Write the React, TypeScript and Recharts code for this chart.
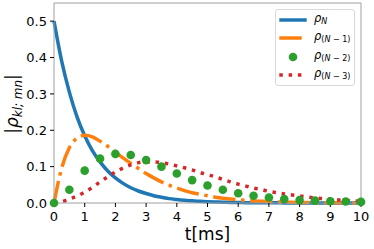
import React from 'react';
import { ComposedChart, Line, XAxis, YAxis, Legend, ReferenceLine, Label } from 'recharts';

const tValues = [
  0, 0.25, 0.5, 0.75, 1, 1.25, 1.5, 1.75, 2, 2.25, 2.5, 2.75, 3, 3.25, 3.5, 3.75,
  4, 4.25, 4.5, 4.75, 5, 5.25, 5.5, 5.75, 6, 6.25, 6.5, 6.75, 7, 7.25, 7.5, 7.75,
  8, 8.25, 8.5, 8.75, 9, 9.25, 9.5, 9.75, 10,
];

// rho_N
const rhoN = [
  0.5, 0.39, 0.305, 0.237, 0.185, 0.144, 0.113, 0.088, 0.069, 0.054, 0.042, 0.033, 0.026, 0.02, 0.016, 0.012,
  0.0095, 0.0075, 0.006, 0.0045, 0.0035, 0.0028, 0.0022, 0.0017, 0.0013, 0.001, 0.0008, 0.0006, 0.0005, 0.0004, 0.0003, 0.0002,
  0.0002, 0.0001, 0.0001, 0.0001, 0.0001, 0, 0, 0, 0,
];

// rho_(N-1)
const rhoN1 = [
  0, 0.096, 0.152, 0.178, 0.186, 0.182, 0.17, 0.156, 0.14, 0.124, 0.109, 0.095, 0.081, 0.069, 0.058, 0.049,
  0.041, 0.034, 0.028, 0.024, 0.02, 0.016, 0.013, 0.011, 0.009, 0.0072, 0.0058, 0.0047, 0.0038, 0.003, 0.0024, 0.0019,
  0.0015, 0.0012, 0.001, 0.0008, 0.0006, 0.0005, 0.0004, 0.0003, 0.0002,
];

// rho_(N-2), markers every 0.5 ms
const rhoN2 = [
  0, 0.0365, 0.089, 0.122, 0.135, 0.132, 0.118, 0.1, 0.081, 0.063, 0.048,
  0.0365, 0.027, 0.02, 0.015, 0.011, 0.008, 0.0065, 0.005, 0.004, 0.003,
];

// rho_(N-3)
const rhoN3 = [
  0, 0.003, 0.011, 0.019, 0.03, 0.043, 0.058, 0.072, 0.085, 0.096, 0.105, 0.111, 0.113, 0.113, 0.111, 0.107,
  0.102, 0.097, 0.091, 0.084, 0.078, 0.072, 0.065, 0.058, 0.052, 0.0465, 0.041, 0.037, 0.032, 0.028, 0.025, 0.022,
  0.0195, 0.0166, 0.014, 0.012, 0.01, 0.0085, 0.007, 0.0058, 0.0048,
];

const xTicks = [0, 1, 2, 3, 4, 5, 6, 7, 8, 9, 10];
const yTicks = [0, 0.1, 0.2, 0.3, 0.4, 0.5];

const data = tValues.map((t, i) => ({
  t,
  n: rhoN[i],
  n1: rhoN1[i],
  n2: i % 2 === 0 ? rhoN2[i / 2] : null,
  n3: rhoN3[i],
}));

const FONT = '"DejaVu Sans", sans-serif';
const SPINE = '#a0a0a0';

const legendItems = [
  { color: '#1f77b4', kind: 'solid', sub: <i>N</i> },
  { color: '#ff7f0e', kind: 'dashdot', sub: <>(<i>N</i> − 1)</> },
  { color: '#2ca02c', kind: 'dot', sub: <>(<i>N</i> − 2)</> },
  { color: '#d62728', kind: 'dotted', sub: <>(<i>N</i> − 3)</> },
];

function Swatch({ kind, color }: { kind: string; color: string }) {
  return (
    <svg width={36} height={18} style={{ display: 'block' }}>
      {kind === 'dot' ? (
        <circle cx={17} cy={9} r={4.3} fill={color} />
      ) : (
        <line
          x1={3.3}
          x2={30.7}
          y1={9}
          y2={9}
          stroke={color}
          strokeWidth={3.5}
          strokeDasharray={kind === 'dashdot' ? '22.4 5.6 3.5 5.6' : kind === 'dotted' ? '3.5 5.8' : undefined}
        />
      )}
    </svg>
  );
}

function LegendBox() {
  return (
    <div
      style={{
        width: 80,
        height: 77,
        boxSizing: 'border-box',
        border: '1px solid #d9d9d9',
        borderRadius: 3,
        background: 'rgba(255,255,255,0.8)',
        paddingTop: 1,
        fontFamily: FONT,
      }}
    >
      {legendItems.map((it, i) => (
        <div key={i} style={{ display: 'flex', alignItems: 'center', height: 18.3 }}>
          <Swatch kind={it.kind} color={it.color} />
          <span style={{ marginLeft: 2, fontSize: 11.5, lineHeight: '18px', color: '#000', whiteSpace: 'nowrap' }}>
            <i>ρ</i>
            <sub style={{ fontSize: 8, verticalAlign: '-2px' }}>{it.sub}</sub>
          </span>
        </div>
      ))}
    </div>
  );
}

function YTitle() {
  return (
    <text
      transform="translate(17.7,104) rotate(-90)"
      textAnchor="middle"
      fontFamily={FONT}
      fontSize={17}
      fill="#000"
    >
      |<tspan fontStyle="italic">ρ</tspan>
      <tspan fontStyle="italic" fontSize={12} dy={4}>kl; mn</tspan>
      <tspan dy={-4}>|</tspan>
    </text>
  );
}

export default function App() {
  return (
    <div style={{ position: 'absolute', left: 0, top: 0, background: '#fff' }}>
      <ComposedChart width={374} height={249} data={data} margin={{ top: 3, right: 13, left: 0, bottom: 0 }}>
        <XAxis
          dataKey="t"
          type="number"
          domain={[0, 10]}
          ticks={xTicks}
          height={46}
          axisLine={{ stroke: SPINE }}
          tickLine={{ stroke: '#000' }}
          tickSize={4}
          tickMargin={5}
          tick={{ fontSize: 13, fill: '#000', fontFamily: FONT }}
        >
          <Label value="t[ms]" position="insideBottom" offset={9} style={{ fontSize: 17, fill: '#000', fontFamily: FONT }} />
        </XAxis>
        <YAxis
          type="number"
          domain={[0, 0.55]}
          ticks={yTicks}
          width={54}
          axisLine={{ stroke: SPINE }}
          tickLine={{ stroke: '#000' }}
          tickSize={4}
          tickMargin={3}
          tickFormatter={(v: number) => v.toFixed(1)}
          tick={{ fontSize: 13, fill: '#000', fontFamily: FONT }}
        >
          <Label content={() => <YTitle />} />
        </YAxis>
        <ReferenceLine y={0.55} stroke={SPINE} />
        <ReferenceLine x={10} stroke={SPINE} />
        <Line type="monotone" dataKey="n" stroke="#1f77b4" strokeWidth={3.5} dot={false} isAnimationActive={false} />
        <Line
          type="monotone"
          dataKey="n1"
          stroke="#ff7f0e"
          strokeWidth={3.5}
          strokeDasharray="22.4 5.6 3.5 5.6"
          dot={false}
          isAnimationActive={false}
        />
        <Line
          type="monotone"
          dataKey="n2"
          stroke="none"
          dot={{ r: 4.3, fill: '#2ca02c', stroke: 'none' }}
          activeDot={false}
          isAnimationActive={false}
        />
        <Line
          type="monotone"
          dataKey="n3"
          stroke="#d62728"
          strokeWidth={3.5}
          strokeDasharray="3.5 5.8"
          dot={false}
          isAnimationActive={false}
        />
        <Legend
          layout="vertical"
          align="center"
          verticalAlign="middle"
          content={() => <LegendBox />}
          wrapperStyle={{ left: 275, top: 9, width: 'auto', height: 'auto' }}
        />
      </ComposedChart>
    </div>
  );
}
